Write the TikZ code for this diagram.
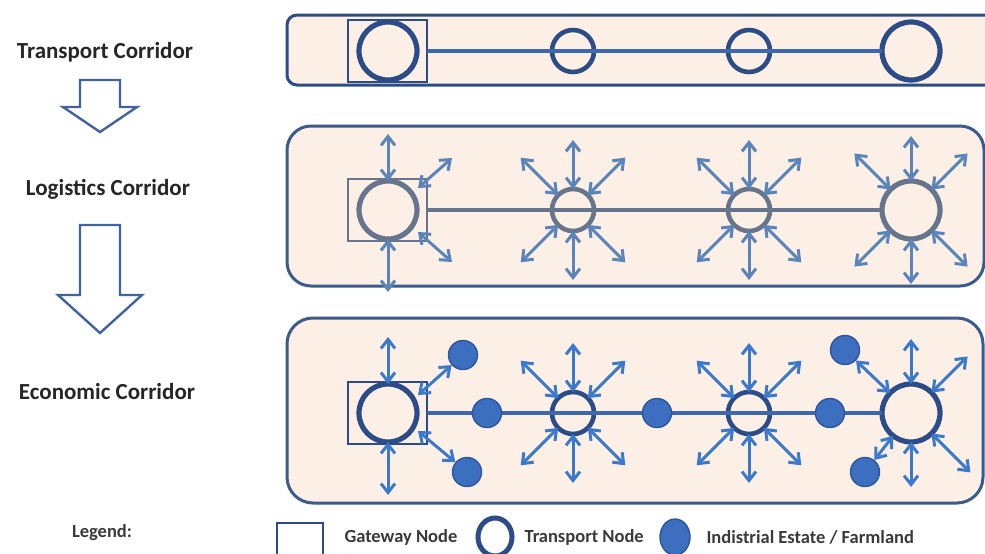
\documentclass[tikz,border=0pt]{standalone}
\usepackage{fontspec}
\setmainfont{Carlito}
\usetikzlibrary{arrows.meta,calc,shapes.geometric}

\definecolor{peach}{HTML}{FCF0E6}
\definecolor{navy}{HTML}{2B4C86}
\definecolor{frame}{HTML}{3A5B8C}
\definecolor{trunkblue}{HTML}{3E67AC}
\definecolor{slate}{HTML}{66758C}
\definecolor{slatearrow}{HTML}{5B84BA}
\definecolor{spokeblue}{HTML}{3B79CC}
\definecolor{dotfill}{HTML}{3C6FBF}
\definecolor{dotedge}{HTML}{2D5699}
\definecolor{ink}{HTML}{262626}
\definecolor{ink2}{HTML}{3A3A3A}
\definecolor{arrowblue}{HTML}{3F64A0}

\tikzset{
  panelbox/.style={draw=frame, line width=3pt, fill=peach},
  ring/.style={circle, draw, inner sep=0pt, outer sep=0pt},
  smallring/.style={ring, minimum size=42pt, line width=4.6pt},
  bigring/.style={ring, minimum size=58pt, line width=5.2pt},
  gatebox/.style={rectangle, draw, inner sep=0pt, outer sep=0pt,
    minimum width=79pt, minimum height=62pt, line width=2.8pt},
  estate/.style={circle, draw=dotedge, fill=dotfill, inner sep=0pt,
    minimum size=29pt, line width=1.4pt},
  spoke/.style={line width=3pt,
    {Straight Barb[length=9pt,width=14pt]}-{Straight Barb[length=9pt,width=14pt]}},
  trunk/.style={line width=3.6pt},
  heading/.style={font=\fontsize{23}{27}\selectfont\bfseries, text=ink},
  legendtext/.style={font=\fontsize{18.5}{22}\selectfont\bfseries, text=ink2, anchor=west},
  hollow/.style={draw=arrowblue, line width=2.4pt, fill=white, line join=miter},
}

\begin{document}
\begin{tikzpicture}[x=1pt,y=-1pt]
\useasboundingbox (0,0) rectangle (985,554);
\fill[white] (0,0) rectangle (985,554);

% ---------- stage labels and transition arrows ----------
\node[heading] (lt) at (105,52) {Transport Corridor};
\node[heading] (ll) at (108,189) {Logistics Corridor};
\node[heading] (le) at (107,392) {Economic Corridor};
\node[font=\fontsize{18.5}{22}\selectfont\bfseries, text=ink2] (lg) at (102,533) {Legend:};

\draw[hollow] (80,80) -- (120,80) -- (120,107) -- (137,107) -- (100,132)
  -- (63,107) -- (80,107) -- cycle;
\draw[hollow] (80,225) -- (120,225) -- (120,295) -- (142,295) -- (100,333)
  -- (58,295) -- (80,295) -- cycle;

% ---------- transport corridor ----------
\draw[panelbox, draw=navy, rounded corners=10pt] (287,15) rectangle (1000,85);
\node[gatebox, draw=navy] (p1g) at (387.5,51) {};
\node[bigring, draw=navy] (p1o) at (388,51) {};
\node[smallring, draw=navy] (p1a) at (573,51) {};
\node[smallring, draw=navy] (p1b) at (749,51) {};
\node[bigring, draw=navy] (p1c) at (911,51) {};
\draw[trunk, draw=trunkblue] (p1g.east) -- (p1c.west);

% ---------- logistics corridor ----------
\draw[panelbox, rounded corners=24pt] (287,126) rectangle (984,286);
\node[gatebox, draw=slate] (p2g) at (387.5,210) {};
\node[bigring, draw=slate] (p2o) at (388,210) {};
\node[smallring, draw=slate] (p2a) at (573,210) {};
\node[smallring, draw=slate] (p2b) at (749,210) {};
\node[bigring, draw=slate] (p2c) at (911,210) {};
\draw[trunk, draw=slate] (p2g.east) -- (p2c.west);

\begin{scope}[spoke, draw=slatearrow]
  \foreach \n/\L/\D in {p2a/70/74, p2b/70/74, p2c/74/80} {
    \foreach \a in {90,270} {
      \coordinate (\n-\a) at ($(\n)+(\a:\L pt)$);
      \draw (\n.\a) -- (\n-\a);
    }
    \foreach \a in {45,135,225,315} {
      \coordinate (\n-\a) at ($(\n)+(\a:\D pt)$);
      \draw (\n.\a) -- (\n-\a);
    }
  }
  \coordinate (p2g-n) at ($(p2o)+(0,-76)$);
  \coordinate (p2g-s) at ($(p2o)+(0,82)$);
  \draw (p2o.90) -- (p2g-n);
  \draw (p2o.270) -- (p2g-s);
  \coordinate (p2g-ne0) at ($(p2o)+(30,-22)$);
  \coordinate (p2g-ne) at ($(p2o)+(64,-52)$);
  \coordinate (p2g-se0) at ($(p2o)+(30,22)$);
  \coordinate (p2g-se) at ($(p2o)+(64,52)$);
  \draw (p2g-ne0) -- (p2g-ne);
  \draw (p2g-se0) -- (p2g-se);
\end{scope}

% ---------- economic corridor ----------
\draw[panelbox, rounded corners=26pt] (287,318) rectangle (983,503);
\node[gatebox, draw=navy] (p3g) at (387.5,413) {};
\node[bigring, draw=navy] (p3o) at (388,413) {};
\node[smallring, draw=navy] (p3a) at (573,413) {};
\node[smallring, draw=navy] (p3b) at (749,413) {};
\node[bigring, draw=navy] (p3c) at (911,413) {};
\draw[trunk, draw=trunkblue] (p3g.east) -- (p3c.west);

\node[estate] (p3m1) at (487,413) {};
\node[estate] (p3m2) at (657,413) {};
\node[estate] (p3m3) at (830,413) {};
\node[estate] (p3e1) at (463,355) {};
\node[estate] (p3e2) at (467,472) {};
\node[estate] (p3u) at (845,350) {};
\node[estate] (p3d) at (865,472) {};

\begin{scope}[spoke, draw=spokeblue]
  \foreach \n/\L/\D in {p3a/70/74, p3b/70/74} {
    \foreach \a in {90,270} {
      \coordinate (\n-\a) at ($(\n)+(\a:\L pt)$);
      \draw (\n.\a) -- (\n-\a);
    }
    \foreach \a in {45,135,225,315} {
      \coordinate (\n-\a) at ($(\n)+(\a:\D pt)$);
      \draw (\n.\a) -- (\n-\a);
    }
  }
  \foreach \a/\L in {90/74, 270/74, 45/80, 315/84} {
    \coordinate (p3c-\a) at ($(p3c)+(\a:\L pt)$);
    \draw (p3c.\a) -- (p3c-\a);
  }
  \draw (p3c) -- (p3u);
  \draw (p3c) -- (p3d);
  \coordinate (p3g-n) at ($(p3o)+(0,-76)$);
  \coordinate (p3g-s) at ($(p3o)+(0,82)$);
  \draw (p3o.90) -- (p3g-n);
  \draw (p3o.270) -- (p3g-s);
  \coordinate (p3g-ne0) at ($(p3o)+(30,-18)$);
  \coordinate (p3g-se0) at ($(p3o)+(30,18)$);
  \draw (p3g-ne0) -- (p3e1);
  \draw (p3g-se0) -- (p3e2);
\end{scope}

% ---------- legend ----------
\node[rectangle, draw=navy, line width=2.4pt, minimum width=46pt, minimum height=34pt,
  inner sep=0pt] (kg) at (300,540) {};
\node[legendtext] (kgt) at (341,537) {Gateway Node};
\node[ellipse, draw=navy, line width=5pt, minimum width=34pt, minimum height=38pt,
  inner sep=0pt] (kt) at (495,537) {};
\node[legendtext] (ktt) at (521,537) {Transport Node};
\node[ellipse, draw=dotedge, fill=dotfill, line width=1.4pt, minimum width=30pt,
  minimum height=36pt, inner sep=0pt] (ke) at (675,537) {};
\node[legendtext] (ket) at (703,537) {Indistrial Estate / Farmland};
\end{tikzpicture}
\end{document}
